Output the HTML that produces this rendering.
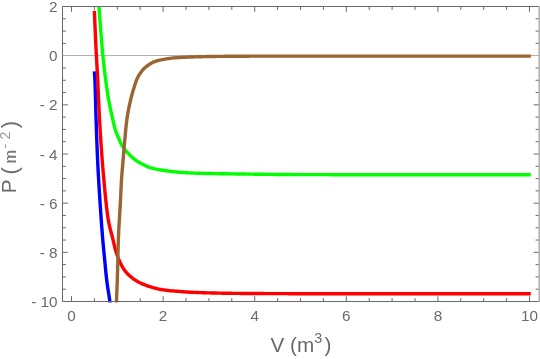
<!DOCTYPE html>
<html><head><meta charset="utf-8"><title>P-V plot</title>
<style>
html,body{margin:0;padding:0;background:#ffffff;}
body{width:540px;height:359px;position:relative;overflow:hidden;font-family:"Liberation Sans",sans-serif;}
</style></head>
<body>
<svg width="540" height="359" viewBox="0 0 540 359" style="position:absolute;left:0;top:0;will-change:transform">
<rect width="540" height="359" fill="#ffffff"/>
<defs><clipPath id="c"><rect x="62.5" y="6" width="477" height="296.5"/></clipPath></defs>
<line x1="62.5" y1="55.5" x2="539.0" y2="55.5" stroke="#b2b2b2" stroke-width="1"/>
<g clip-path="url(#c)" fill="none" stroke-width="3.4" stroke-linejoin="round" stroke-linecap="butt">
<path d="M94.40,71.30 L94.48,72.54 L94.56,73.79 L94.63,75.03 L94.71,76.27 L94.78,77.51 L94.84,78.76 L94.90,80.00 L94.95,81.21 L95.00,82.42 L95.04,83.63 L95.09,84.85 L95.13,86.06 L95.17,87.27 L95.21,88.48 L95.25,89.69 L95.29,90.91 L95.33,92.12 L95.36,93.33 L95.40,94.54 L95.43,95.75 L95.46,96.97 L95.50,98.18 L95.53,99.39 L95.56,100.60 L95.59,101.82 L95.62,103.03 L95.65,104.24 L95.69,105.45 L95.72,106.67 L95.75,107.88 L95.78,109.09 L95.81,110.30 L95.85,111.51 L95.88,112.73 L95.91,113.94 L95.95,115.15 L95.98,116.36 L96.02,117.58 L96.06,118.79 L96.10,120.00 L96.14,121.21 L96.18,122.42 L96.22,123.64 L96.26,124.85 L96.30,126.06 L96.34,127.27 L96.39,128.49 L96.43,129.70 L96.47,130.91 L96.51,132.12 L96.55,133.34 L96.59,134.55 L96.64,135.76 L96.68,136.97 L96.72,138.18 L96.77,139.40 L96.81,140.61 L96.86,141.82 L96.90,143.03 L96.95,144.25 L96.99,145.46 L97.04,146.67 L97.09,147.88 L97.14,149.09 L97.19,150.31 L97.23,151.52 L97.28,152.73 L97.34,153.94 L97.39,155.15 L97.44,156.37 L97.49,157.58 L97.55,158.79 L97.60,160.00 L97.66,161.21 L97.71,162.43 L97.77,163.64 L97.83,164.85 L97.89,166.06 L97.95,167.28 L98.01,168.49 L98.08,169.70 L98.14,170.91 L98.21,172.13 L98.28,173.34 L98.34,174.55 L98.41,175.76 L98.48,176.97 L98.55,178.19 L98.62,179.40 L98.69,180.61 L98.76,181.82 L98.84,183.03 L98.91,184.25 L98.98,185.46 L99.06,186.67 L99.13,187.88 L99.21,189.09 L99.28,190.31 L99.36,191.52 L99.44,192.73 L99.51,193.94 L99.59,195.15 L99.67,196.37 L99.74,197.58 L99.82,198.79 L99.90,200.00 L99.98,201.21 L100.06,202.43 L100.14,203.64 L100.21,204.85 L100.29,206.06 L100.37,207.28 L100.46,208.49 L100.54,209.70 L100.62,210.91 L100.70,212.13 L100.78,213.34 L100.87,214.55 L100.95,215.76 L101.04,216.98 L101.12,218.19 L101.21,219.40 L101.30,220.61 L101.39,221.83 L101.47,223.04 L101.56,224.25 L101.65,225.46 L101.74,226.67 L101.84,227.89 L101.93,229.10 L102.02,230.31 L102.12,231.52 L102.21,232.73 L102.31,233.94 L102.40,235.16 L102.50,236.37 L102.60,237.58 L102.70,238.79 L102.80,240.00 L102.91,241.25 L103.01,242.50 L103.13,243.75 L103.24,245.00 L103.36,246.25 L103.47,247.50 L103.59,248.75 L103.72,250.00 L103.84,251.25 L103.96,252.50 L104.08,253.75 L104.21,255.00 L104.33,256.25 L104.45,257.50 L104.58,258.75 L104.70,260.00 L104.82,261.25 L104.94,262.50 L105.06,263.75 L105.18,265.00 L105.29,266.25 L105.41,267.51 L105.53,268.76 L105.65,270.01 L105.77,271.26 L105.89,272.51 L106.02,273.76 L106.14,275.01 L106.28,276.26 L106.41,277.51 L106.55,278.75 L106.70,280.00 L106.85,281.24 L107.01,282.48 L107.18,283.71 L107.36,284.95 L107.54,286.18 L107.72,287.42 L107.91,288.65 L108.10,289.89 L108.30,291.12 L108.49,292.36 L108.69,293.59 L108.88,294.82 L109.07,296.06 L109.26,297.29 L109.45,298.53 L109.63,299.76 L109.80,301.00 L110.00,302.50 L110.20,304.00" stroke="#0000ff"/>
<path d="M94.40,10.90 L94.44,12.11 L94.49,13.33 L94.53,14.54 L94.58,15.75 L94.63,16.96 L94.67,18.18 L94.72,19.39 L94.77,20.60 L94.82,21.81 L94.87,23.03 L94.92,24.24 L94.97,25.45 L95.02,26.66 L95.07,27.88 L95.12,29.09 L95.17,30.30 L95.22,31.51 L95.27,32.73 L95.33,33.94 L95.38,35.15 L95.44,36.36 L95.49,37.58 L95.54,38.79 L95.60,40.00 L95.66,41.21 L95.71,42.42 L95.77,43.64 L95.83,44.85 L95.89,46.06 L95.95,47.27 L96.01,48.49 L96.08,49.70 L96.14,50.91 L96.20,52.12 L96.27,53.33 L96.33,54.55 L96.40,55.76 L96.46,56.97 L96.53,58.18 L96.60,59.39 L96.66,60.61 L96.73,61.82 L96.80,63.03 L96.86,64.24 L96.93,65.45 L97.00,66.67 L97.06,67.88 L97.13,69.09 L97.19,70.30 L97.26,71.51 L97.32,72.73 L97.39,73.94 L97.45,75.15 L97.51,76.36 L97.58,77.58 L97.64,78.79 L97.70,80.00 L97.76,81.21 L97.82,82.42 L97.88,83.64 L97.94,84.85 L97.99,86.06 L98.05,87.27 L98.11,88.48 L98.16,89.70 L98.22,90.91 L98.27,92.12 L98.33,93.33 L98.38,94.55 L98.43,95.76 L98.49,96.97 L98.54,98.18 L98.60,99.40 L98.65,100.61 L98.71,101.82 L98.76,103.03 L98.82,104.24 L98.87,105.46 L98.93,106.67 L98.99,107.88 L99.04,109.09 L99.10,110.31 L99.16,111.52 L99.22,112.73 L99.28,113.94 L99.34,115.15 L99.41,116.37 L99.47,117.58 L99.53,118.79 L99.60,120.00 L99.67,121.21 L99.73,122.43 L99.80,123.64 L99.87,124.85 L99.94,126.06 L100.01,127.28 L100.08,128.49 L100.16,129.70 L100.23,130.91 L100.30,132.13 L100.38,133.34 L100.45,134.55 L100.53,135.76 L100.61,136.98 L100.68,138.19 L100.76,139.40 L100.84,140.61 L100.92,141.82 L101.00,143.04 L101.08,144.25 L101.16,145.46 L101.25,146.67 L101.33,147.88 L101.41,149.10 L101.50,150.31 L101.58,151.52 L101.67,152.73 L101.76,153.94 L101.84,155.15 L101.93,156.37 L102.02,157.58 L102.11,158.79 L102.20,160.00 L102.29,161.25 L102.39,162.50 L102.49,163.75 L102.59,165.00 L102.69,166.25 L102.80,167.50 L102.91,168.75 L103.01,170.00 L103.12,171.25 L103.23,172.50 L103.34,173.75 L103.45,175.00 L103.56,176.25 L103.68,177.50 L103.79,178.75 L103.90,180.00 L104.01,181.25 L104.12,182.50 L104.24,183.75 L104.35,185.00 L104.46,186.25 L104.57,187.50 L104.69,188.75 L104.80,190.01 L104.92,191.26 L105.04,192.51 L105.16,193.76 L105.28,195.01 L105.41,196.25 L105.54,197.50 L105.67,198.75 L105.80,200.00 L105.93,201.25 L106.07,202.51 L106.21,203.76 L106.34,205.01 L106.48,206.27 L106.62,207.52 L106.77,208.78 L106.91,210.03 L107.06,211.28 L107.22,212.53 L107.38,213.78 L107.55,215.03 L107.73,216.28 L107.91,217.52 L108.10,218.76 L108.30,220.00 L108.51,221.19 L108.73,222.37 L108.97,223.55 L109.23,224.73 L109.50,225.91 L109.78,227.09 L110.07,228.26 L110.36,229.44 L110.67,230.61 L110.98,231.78 L111.29,232.96 L111.60,234.13 L111.91,235.30 L112.22,236.48 L112.52,237.65 L112.81,238.82 L113.10,240.00 L113.39,241.25 L113.68,242.51 L113.96,243.76 L114.25,245.02 L114.54,246.27 L114.84,247.52 L115.16,248.76 L115.50,250.00 L115.87,251.27 L116.26,252.54 L116.67,253.80 L117.10,255.06 L117.54,256.31 L118.01,257.56 L118.49,258.79 L119.00,260.00 L119.50,261.15 L120.03,262.31 L120.58,263.45 L121.16,264.59 L121.76,265.72 L122.38,266.83 L123.03,267.92 L123.70,268.97 L124.40,270.00 L125.21,271.09 L126.09,272.17 L127.02,273.21 L127.98,274.22 L128.98,275.19 L130.00,276.10 L130.91,276.86 L131.84,277.61 L132.80,278.35 L133.79,279.06 L134.79,279.75 L135.81,280.42 L136.85,281.06 L137.89,281.67 L138.94,282.25 L140.00,282.80 L141.19,283.37 L142.41,283.92 L143.65,284.44 L144.91,284.94 L146.17,285.41 L147.45,285.86 L148.72,286.29 L150.00,286.70 L151.23,287.08 L152.47,287.45 L153.71,287.81 L154.96,288.15 L156.22,288.48 L157.47,288.78 L158.74,289.05 L160.00,289.30 L161.24,289.52 L162.48,289.72 L163.73,289.92 L164.98,290.10 L166.24,290.27 L167.49,290.42 L168.75,290.57 L170.00,290.70 L171.25,290.82 L172.50,290.93 L173.74,291.04 L175.00,291.13 L176.25,291.23 L177.50,291.32 L178.75,291.41 L180.00,291.50 L181.25,291.59 L182.50,291.69 L183.75,291.79 L185.00,291.88 L186.25,291.97 L187.50,292.06 L188.75,292.13 L190.00,292.20 L191.25,292.26 L192.50,292.32 L193.75,292.37 L195.00,292.42 L196.25,292.47 L197.50,292.52 L198.75,292.56 L200.00,292.61 L201.25,292.65 L202.50,292.69 L203.75,292.73 L205.00,292.76 L206.25,292.80 L207.50,292.83 L208.75,292.87 L210.00,292.90 L211.25,292.93 L212.50,292.96 L213.75,292.99 L215.00,293.02 L216.25,293.05 L217.50,293.08 L218.75,293.10 L220.00,293.13 L221.25,293.16 L222.50,293.18 L223.75,293.20 L225.00,293.22 L226.25,293.24 L227.50,293.26 L228.75,293.28 L230.00,293.30 L231.25,293.32 L232.50,293.33 L233.75,293.35 L235.00,293.36 L236.25,293.38 L237.50,293.39 L238.75,293.41 L240.00,293.42 L241.25,293.43 L242.50,293.44 L243.75,293.45 L245.00,293.46 L246.25,293.47 L247.50,293.48 L248.75,293.49 L250.00,293.50 L251.22,293.51 L252.44,293.51 L253.66,293.52 L254.88,293.53 L256.10,293.54 L257.32,293.54 L258.54,293.55 L259.76,293.56 L260.98,293.56 L262.19,293.57 L263.41,293.57 L264.63,293.58 L265.85,293.59 L267.07,293.59 L268.29,293.60 L269.51,293.60 L270.73,293.61 L271.95,293.61 L273.17,293.62 L274.39,293.62 L275.61,293.63 L276.83,293.63 L278.05,293.64 L279.27,293.64 L280.49,293.65 L281.71,293.65 L282.93,293.66 L284.15,293.66 L285.37,293.66 L286.59,293.67 L287.80,293.67 L289.02,293.68 L290.24,293.68 L291.46,293.68 L292.68,293.68 L293.90,293.69 L295.12,293.69 L296.34,293.69 L297.56,293.70 L298.78,293.70 L300.00,293.70 L301.20,293.70 L302.41,293.70 L303.61,293.71 L304.82,293.71 L306.02,293.71 L307.23,293.71 L308.43,293.71 L309.64,293.72 L310.84,293.72 L312.05,293.72 L313.25,293.72 L314.46,293.72 L315.66,293.73 L316.87,293.73 L318.07,293.73 L319.28,293.73 L320.48,293.73 L321.69,293.73 L322.89,293.74 L324.10,293.74 L325.30,293.74 L326.51,293.74 L327.71,293.74 L328.92,293.75 L330.12,293.75 L331.33,293.75 L332.53,293.75 L333.73,293.75 L334.94,293.75 L336.14,293.76 L337.35,293.76 L338.55,293.76 L339.76,293.76 L340.96,293.76 L342.17,293.76 L343.37,293.76 L344.58,293.77 L345.78,293.77 L346.99,293.77 L348.19,293.77 L349.40,293.77 L350.60,293.77 L351.81,293.77 L353.01,293.77 L354.22,293.78 L355.42,293.78 L356.63,293.78 L357.83,293.78 L359.04,293.78 L360.24,293.78 L361.45,293.78 L362.65,293.78 L363.86,293.78 L365.06,293.79 L366.27,293.79 L367.47,293.79 L368.67,293.79 L369.88,293.79 L371.08,293.79 L372.29,293.79 L373.49,293.79 L374.70,293.79 L375.90,293.79 L377.11,293.79 L378.31,293.79 L379.52,293.79 L380.72,293.80 L381.93,293.80 L383.13,293.80 L384.34,293.80 L385.54,293.80 L386.75,293.80 L387.95,293.80 L389.16,293.80 L390.36,293.80 L391.57,293.80 L392.77,293.80 L393.98,293.80 L395.18,293.80 L396.39,293.80 L397.59,293.80 L398.80,293.80 L400.00,293.80 L401.21,293.80 L402.42,293.80 L403.63,293.80 L404.84,293.80 L406.06,293.80 L407.27,293.80 L408.48,293.80 L409.69,293.80 L410.90,293.80 L412.11,293.80 L413.32,293.80 L414.53,293.80 L415.74,293.80 L416.96,293.80 L418.17,293.80 L419.38,293.80 L420.59,293.80 L421.80,293.80 L423.01,293.80 L424.22,293.80 L425.43,293.80 L426.64,293.80 L427.86,293.80 L429.07,293.80 L430.28,293.80 L431.49,293.80 L432.70,293.80 L433.91,293.80 L435.12,293.80 L436.33,293.80 L437.54,293.80 L438.76,293.80 L439.97,293.80 L441.18,293.80 L442.39,293.80 L443.60,293.80 L444.81,293.80 L446.02,293.80 L447.23,293.80 L448.44,293.80 L449.66,293.80 L450.87,293.80 L452.08,293.80 L453.29,293.80 L454.50,293.80 L455.71,293.80 L456.92,293.80 L458.13,293.80 L459.34,293.80 L460.56,293.80 L461.77,293.80 L462.98,293.80 L464.19,293.80 L465.40,293.80 L466.61,293.80 L467.82,293.80 L469.03,293.80 L470.24,293.80 L471.46,293.80 L472.67,293.80 L473.88,293.80 L475.09,293.80 L476.30,293.80 L477.51,293.80 L478.72,293.80 L479.93,293.80 L481.14,293.80 L482.36,293.80 L483.57,293.80 L484.78,293.80 L485.99,293.80 L487.20,293.80 L488.41,293.80 L489.62,293.80 L490.83,293.80 L492.04,293.80 L493.26,293.80 L494.47,293.80 L495.68,293.80 L496.89,293.80 L498.10,293.80 L499.31,293.80 L500.52,293.80 L501.73,293.80 L502.94,293.80 L504.16,293.80 L505.37,293.80 L506.58,293.80 L507.79,293.80 L509.00,293.80 L510.21,293.80 L511.42,293.80 L512.63,293.80 L513.84,293.80 L515.06,293.80 L516.27,293.80 L517.48,293.80 L518.69,293.80 L519.90,293.80 L521.11,293.80 L522.32,293.80 L523.53,293.80 L524.74,293.80 L525.96,293.80 L527.17,293.80 L528.38,293.80 L529.59,293.80 L530.80,293.80" stroke="#ff0000"/>
<path d="M98.60,3.00 L98.75,4.75 L98.90,6.50 L99.00,7.70 L99.10,8.89 L99.19,10.09 L99.29,11.28 L99.38,12.48 L99.47,13.68 L99.57,14.87 L99.66,16.07 L99.75,17.27 L99.84,18.46 L99.93,19.66 L100.02,20.86 L100.11,22.05 L100.20,23.25 L100.29,24.45 L100.38,25.64 L100.47,26.84 L100.56,28.04 L100.65,29.23 L100.75,30.43 L100.84,31.63 L100.93,32.82 L101.02,34.02 L101.12,35.22 L101.21,36.41 L101.31,37.61 L101.40,38.80 L101.50,40.00 L101.60,41.27 L101.71,42.53 L101.81,43.80 L101.91,45.07 L102.02,46.34 L102.12,47.60 L102.23,48.87 L102.34,50.14 L102.45,51.40 L102.56,52.67 L102.68,53.93 L102.80,55.20 L102.92,56.44 L103.05,57.68 L103.18,58.93 L103.31,60.17 L103.44,61.41 L103.58,62.65 L103.72,63.89 L103.86,65.13 L104.00,66.37 L104.14,67.61 L104.29,68.85 L104.44,70.09 L104.59,71.33 L104.75,72.57 L104.90,73.81 L105.06,75.05 L105.22,76.29 L105.38,77.52 L105.54,78.76 L105.70,80.00 L105.87,81.25 L106.03,82.51 L106.20,83.76 L106.38,85.01 L106.55,86.26 L106.73,87.52 L106.91,88.77 L107.10,90.02 L107.28,91.27 L107.47,92.52 L107.67,93.77 L107.87,95.02 L108.07,96.26 L108.27,97.51 L108.48,98.76 L108.70,100.00 L108.91,101.18 L109.13,102.36 L109.35,103.54 L109.58,104.72 L109.81,105.90 L110.05,107.08 L110.29,108.26 L110.54,109.44 L110.79,110.61 L111.05,111.79 L111.31,112.96 L111.57,114.14 L111.83,115.31 L112.09,116.48 L112.36,117.66 L112.63,118.83 L112.90,120.00 L113.19,121.26 L113.47,122.52 L113.76,123.78 L114.06,125.03 L114.37,126.29 L114.69,127.53 L115.03,128.77 L115.40,130.00 L115.78,131.14 L116.19,132.28 L116.63,133.41 L117.09,134.53 L117.57,135.65 L118.05,136.77 L118.53,137.88 L119.00,139.00 L119.54,140.35 L120.10,141.69 L120.70,143.00 L121.37,144.29 L122.11,145.56 L122.88,146.80 L123.70,148.00 L124.54,149.12 L125.43,150.20 L126.36,151.26 L127.30,152.30 L128.12,153.20 L128.94,154.09 L129.78,154.98 L130.63,155.84 L131.51,156.69 L132.40,157.50 L133.45,158.40 L134.52,159.28 L135.63,160.13 L136.75,160.94 L137.90,161.70 L138.98,162.35 L140.09,162.97 L141.22,163.57 L142.36,164.14 L143.50,164.70 L144.78,165.34 L146.06,165.97 L147.36,166.58 L148.67,167.14 L150.00,167.60 L151.22,167.95 L152.45,168.27 L153.69,168.57 L154.95,168.84 L156.21,169.10 L157.47,169.34 L158.74,169.57 L160.00,169.80 L161.24,170.02 L162.49,170.23 L163.74,170.43 L164.99,170.62 L166.24,170.80 L167.49,170.98 L168.75,171.14 L170.00,171.30 L171.25,171.45 L172.49,171.59 L173.74,171.73 L174.99,171.86 L176.24,171.99 L177.50,172.10 L178.75,172.21 L180.00,172.30 L181.25,172.39 L182.50,172.47 L183.74,172.55 L184.99,172.62 L186.24,172.70 L187.49,172.77 L188.74,172.84 L189.99,172.90 L191.24,172.97 L192.49,173.02 L193.75,173.08 L195.00,173.13 L196.25,173.18 L197.50,173.22 L198.75,173.26 L200.00,173.30 L201.21,173.33 L202.42,173.36 L203.63,173.39 L204.85,173.42 L206.06,173.45 L207.27,173.48 L208.48,173.51 L209.69,173.53 L210.91,173.56 L212.12,173.58 L213.33,173.61 L214.54,173.63 L215.75,173.65 L216.97,173.67 L218.18,173.69 L219.39,173.71 L220.60,173.73 L221.82,173.75 L223.03,173.77 L224.24,173.79 L225.45,173.81 L226.66,173.82 L227.88,173.84 L229.09,173.86 L230.30,173.87 L231.51,173.89 L232.73,173.91 L233.94,173.92 L235.15,173.94 L236.36,173.95 L237.58,173.97 L238.79,173.98 L240.00,174.00 L241.20,174.02 L242.40,174.03 L243.60,174.05 L244.80,174.06 L246.00,174.08 L247.20,174.09 L248.40,174.11 L249.60,174.13 L250.80,174.14 L252.00,174.16 L253.20,174.17 L254.40,174.19 L255.60,174.20 L256.80,174.22 L258.00,174.23 L259.20,174.25 L260.40,174.26 L261.60,174.28 L262.80,174.29 L264.00,174.31 L265.20,174.32 L266.40,174.34 L267.60,174.35 L268.80,174.36 L270.00,174.38 L271.20,174.39 L272.40,174.40 L273.60,174.42 L274.80,174.43 L276.00,174.44 L277.20,174.45 L278.40,174.46 L279.60,174.47 L280.80,174.48 L282.00,174.49 L283.20,174.50 L284.40,174.51 L285.60,174.52 L286.80,174.53 L288.00,174.54 L289.20,174.55 L290.40,174.56 L291.60,174.56 L292.80,174.57 L294.00,174.58 L295.20,174.58 L296.40,174.59 L297.60,174.59 L298.80,174.60 L300.00,174.60 L301.20,174.60 L302.41,174.61 L303.61,174.61 L304.82,174.61 L306.02,174.62 L307.23,174.62 L308.43,174.62 L309.64,174.63 L310.84,174.63 L312.05,174.63 L313.25,174.63 L314.46,174.64 L315.66,174.64 L316.87,174.64 L318.07,174.65 L319.28,174.65 L320.48,174.65 L321.69,174.66 L322.89,174.66 L324.10,174.66 L325.30,174.66 L326.51,174.67 L327.71,174.67 L328.92,174.67 L330.12,174.67 L331.32,174.68 L332.53,174.68 L333.73,174.68 L334.94,174.68 L336.14,174.69 L337.35,174.69 L338.55,174.69 L339.76,174.69 L340.96,174.69 L342.17,174.70 L343.37,174.70 L344.58,174.70 L345.78,174.70 L346.99,174.70 L348.19,174.71 L349.40,174.71 L350.60,174.71 L351.81,174.71 L353.01,174.71 L354.22,174.72 L355.42,174.72 L356.63,174.72 L357.83,174.72 L359.04,174.72 L360.24,174.72 L361.45,174.73 L362.65,174.73 L363.86,174.73 L365.06,174.73 L366.26,174.73 L367.47,174.73 L368.67,174.73 L369.88,174.73 L371.08,174.74 L372.29,174.74 L373.49,174.74 L374.70,174.74 L375.90,174.74 L377.11,174.74 L378.31,174.74 L379.52,174.74 L380.72,174.74 L381.93,174.74 L383.13,174.75 L384.34,174.75 L385.54,174.75 L386.75,174.75 L387.95,174.75 L389.16,174.75 L390.36,174.75 L391.57,174.75 L392.77,174.75 L393.98,174.75 L395.18,174.75 L396.39,174.75 L397.59,174.75 L398.80,174.75 L400.00,174.75 L401.20,174.75 L402.40,174.75 L403.60,174.75 L404.80,174.75 L406.00,174.75 L407.20,174.75 L408.40,174.75 L409.60,174.75 L410.80,174.75 L412.00,174.75 L413.20,174.75 L414.40,174.75 L415.60,174.75 L416.80,174.75 L418.00,174.75 L419.20,174.75 L420.40,174.75 L421.60,174.75 L422.80,174.75 L424.00,174.75 L425.20,174.75 L426.40,174.75 L427.60,174.75 L428.80,174.75 L430.00,174.75 L431.20,174.75 L432.40,174.75 L433.60,174.75 L434.80,174.75 L436.00,174.75 L437.20,174.75 L438.40,174.75 L439.60,174.75 L440.80,174.75 L442.00,174.75 L443.20,174.75 L444.40,174.75 L445.60,174.75 L446.80,174.75 L448.00,174.75 L449.20,174.75 L450.40,174.75 L451.60,174.75 L452.80,174.75 L454.00,174.75 L455.20,174.75 L456.40,174.75 L457.60,174.75 L458.80,174.75 L460.00,174.75 L461.20,174.74 L462.40,174.74 L463.60,174.74 L464.80,174.74 L466.00,174.74 L467.20,174.74 L468.40,174.74 L469.60,174.74 L470.80,174.74 L472.00,174.74 L473.20,174.74 L474.40,174.74 L475.60,174.74 L476.80,174.74 L478.00,174.74 L479.20,174.74 L480.40,174.74 L481.60,174.74 L482.80,174.74 L484.00,174.74 L485.20,174.74 L486.40,174.74 L487.60,174.73 L488.80,174.73 L490.00,174.73 L491.20,174.73 L492.40,174.73 L493.60,174.73 L494.80,174.73 L496.00,174.73 L497.20,174.73 L498.40,174.73 L499.60,174.73 L500.80,174.73 L502.00,174.73 L503.20,174.73 L504.40,174.72 L505.60,174.72 L506.80,174.72 L508.00,174.72 L509.20,174.72 L510.40,174.72 L511.60,174.72 L512.80,174.72 L514.00,174.72 L515.20,174.72 L516.40,174.71 L517.60,174.71 L518.80,174.71 L520.00,174.71 L521.20,174.71 L522.40,174.71 L523.60,174.71 L524.80,174.71 L526.00,174.71 L527.20,174.70 L528.40,174.70 L529.60,174.70 L530.80,174.70" stroke="#00ff00"/>
<path d="M116.40,304.00 L116.45,302.75 L116.50,301.50 L116.55,300.24 L116.60,298.97 L116.65,297.71 L116.70,296.44 L116.75,295.18 L116.80,293.91 L116.84,292.65 L116.89,291.38 L116.94,290.12 L116.99,288.85 L117.03,287.59 L117.08,286.32 L117.13,285.06 L117.17,283.79 L117.22,282.53 L117.26,281.26 L117.30,280.00 L117.34,278.75 L117.38,277.50 L117.42,276.25 L117.46,275.00 L117.49,273.75 L117.53,272.50 L117.57,271.25 L117.60,270.00 L117.63,268.80 L117.66,267.60 L117.69,266.40 L117.72,265.20 L117.75,264.00 L117.78,262.80 L117.81,261.60 L117.83,260.40 L117.86,259.20 L117.89,258.00 L117.91,256.80 L117.94,255.60 L117.97,254.40 L117.99,253.20 L118.02,252.00 L118.05,250.80 L118.08,249.60 L118.11,248.40 L118.14,247.20 L118.17,246.00 L118.20,244.80 L118.24,243.60 L118.27,242.40 L118.31,241.20 L118.35,240.00 L118.39,238.79 L118.44,237.57 L118.49,236.36 L118.54,235.15 L118.59,233.94 L118.64,232.72 L118.70,231.51 L118.76,230.30 L118.82,229.09 L118.89,227.88 L118.95,226.66 L119.02,225.45 L119.09,224.24 L119.16,223.03 L119.23,221.82 L119.30,220.60 L119.37,219.39 L119.44,218.18 L119.52,216.97 L119.59,215.76 L119.66,214.54 L119.74,213.33 L119.81,212.12 L119.88,210.91 L119.95,209.70 L120.03,208.48 L120.10,207.27 L120.17,206.06 L120.24,204.85 L120.30,203.64 L120.37,202.42 L120.44,201.21 L120.50,200.00 L120.56,198.75 L120.62,197.50 L120.68,196.25 L120.74,195.00 L120.80,193.75 L120.86,192.50 L120.92,191.25 L120.98,190.00 L121.03,188.75 L121.09,187.50 L121.16,186.25 L121.22,185.00 L121.28,183.75 L121.35,182.50 L121.42,181.25 L121.50,180.00 L121.58,178.75 L121.66,177.50 L121.75,176.25 L121.85,175.00 L121.94,173.75 L122.04,172.50 L122.14,171.25 L122.25,170.00 L122.35,168.75 L122.46,167.50 L122.57,166.25 L122.68,165.00 L122.78,163.75 L122.89,162.50 L123.00,161.25 L123.10,160.00 L123.20,158.75 L123.31,157.50 L123.41,156.25 L123.51,155.00 L123.61,153.75 L123.72,152.50 L123.82,151.25 L123.93,150.00 L124.03,148.75 L124.14,147.50 L124.25,146.25 L124.35,145.00 L124.46,143.75 L124.57,142.50 L124.69,141.25 L124.80,140.00 L124.91,138.75 L125.03,137.50 L125.14,136.24 L125.25,134.99 L125.36,133.74 L125.47,132.49 L125.59,131.23 L125.70,129.98 L125.82,128.73 L125.95,127.48 L126.07,126.23 L126.21,124.98 L126.35,123.73 L126.49,122.49 L126.64,121.24 L126.80,120.00 L126.97,118.74 L127.15,117.49 L127.35,116.23 L127.55,114.97 L127.77,113.72 L127.99,112.46 L128.22,111.21 L128.46,109.96 L128.71,108.71 L128.97,107.46 L129.23,106.21 L129.49,104.97 L129.76,103.72 L130.04,102.48 L130.32,101.24 L130.60,100.00 L130.88,98.79 L131.18,97.58 L131.49,96.38 L131.81,95.17 L132.13,93.97 L132.47,92.77 L132.82,91.57 L133.17,90.38 L133.53,89.19 L133.90,88.00 L134.29,86.73 L134.69,85.46 L135.10,84.19 L135.52,82.92 L135.96,81.66 L136.42,80.42 L136.92,79.20 L137.45,78.00 L138.08,76.75 L138.78,75.52 L139.53,74.32 L140.33,73.14 L141.15,72.00 L141.94,70.95 L142.78,69.91 L143.67,68.92 L144.60,68.00 L145.86,66.96 L147.20,66.00 L148.27,65.22 L149.34,64.44 L150.43,63.68 L151.55,62.99 L152.70,62.40 L154.05,61.84 L155.45,61.34 L156.87,60.89 L158.30,60.50 L159.71,60.16 L161.14,59.85 L162.57,59.57 L164.00,59.30 L165.25,59.08 L166.50,58.87 L167.75,58.68 L169.00,58.50 L170.25,58.33 L171.50,58.17 L172.75,58.02 L174.00,57.90 L175.25,57.80 L176.50,57.70 L177.75,57.61 L179.00,57.52 L180.25,57.45 L181.50,57.37 L182.75,57.31 L184.00,57.25 L185.25,57.20 L186.50,57.15 L187.75,57.10 L189.00,57.06 L190.25,57.01 L191.50,56.97 L192.75,56.94 L194.00,56.90 L195.23,56.86 L196.46,56.83 L197.69,56.79 L198.92,56.76 L200.15,56.72 L201.38,56.69 L202.61,56.65 L203.85,56.62 L205.08,56.59 L206.31,56.57 L207.54,56.54 L208.77,56.52 L210.00,56.50 L211.20,56.48 L212.40,56.46 L213.60,56.45 L214.80,56.43 L216.00,56.41 L217.20,56.40 L218.40,56.38 L219.60,56.37 L220.80,56.35 L222.00,56.34 L223.20,56.33 L224.40,56.31 L225.60,56.30 L226.80,56.29 L228.00,56.28 L229.20,56.27 L230.40,56.26 L231.60,56.25 L232.80,56.24 L234.00,56.23 L235.20,56.22 L236.40,56.21 L237.60,56.21 L238.80,56.20 L240.00,56.20 L241.20,56.20 L242.40,56.19 L243.60,56.19 L244.80,56.19 L246.00,56.18 L247.20,56.18 L248.40,56.18 L249.60,56.17 L250.80,56.17 L252.00,56.17 L253.20,56.16 L254.40,56.16 L255.60,56.16 L256.80,56.15 L258.00,56.15 L259.20,56.15 L260.40,56.15 L261.60,56.14 L262.80,56.14 L264.00,56.14 L265.20,56.14 L266.40,56.13 L267.60,56.13 L268.80,56.13 L270.00,56.13 L271.20,56.12 L272.40,56.12 L273.60,56.12 L274.80,56.12 L276.00,56.12 L277.20,56.12 L278.40,56.11 L279.60,56.11 L280.80,56.11 L282.00,56.11 L283.20,56.11 L284.40,56.11 L285.60,56.11 L286.80,56.11 L288.00,56.10 L289.20,56.10 L290.40,56.10 L291.60,56.10 L292.80,56.10 L294.00,56.10 L295.20,56.10 L296.40,56.10 L297.60,56.10 L298.80,56.10 L300.00,56.10 L301.20,56.10 L302.41,56.10 L303.61,56.10 L304.81,56.10 L306.01,56.10 L307.22,56.10 L308.42,56.10 L309.62,56.10 L310.82,56.10 L312.03,56.10 L313.23,56.10 L314.43,56.10 L315.63,56.10 L316.84,56.10 L318.04,56.10 L319.24,56.10 L320.44,56.10 L321.65,56.10 L322.85,56.10 L324.05,56.10 L325.25,56.10 L326.46,56.10 L327.66,56.10 L328.86,56.10 L330.07,56.10 L331.27,56.10 L332.47,56.10 L333.67,56.10 L334.88,56.10 L336.08,56.10 L337.28,56.10 L338.48,56.10 L339.69,56.10 L340.89,56.10 L342.09,56.10 L343.29,56.10 L344.50,56.10 L345.70,56.10 L346.90,56.10 L348.10,56.10 L349.31,56.10 L350.51,56.10 L351.71,56.10 L352.91,56.10 L354.12,56.10 L355.32,56.10 L356.52,56.10 L357.72,56.10 L358.93,56.10 L360.13,56.10 L361.33,56.10 L362.54,56.10 L363.74,56.10 L364.94,56.10 L366.14,56.10 L367.35,56.10 L368.55,56.10 L369.75,56.10 L370.95,56.10 L372.16,56.10 L373.36,56.10 L374.56,56.10 L375.76,56.10 L376.97,56.10 L378.17,56.10 L379.37,56.10 L380.57,56.10 L381.78,56.10 L382.98,56.10 L384.18,56.10 L385.38,56.10 L386.59,56.10 L387.79,56.10 L388.99,56.10 L390.20,56.10 L391.40,56.10 L392.60,56.10 L393.80,56.10 L395.01,56.10 L396.21,56.10 L397.41,56.10 L398.61,56.10 L399.82,56.10 L401.02,56.10 L402.22,56.10 L403.42,56.10 L404.63,56.10 L405.83,56.10 L407.03,56.10 L408.23,56.10 L409.44,56.10 L410.64,56.10 L411.84,56.10 L413.04,56.10 L414.25,56.10 L415.45,56.10 L416.65,56.10 L417.86,56.10 L419.06,56.10 L420.26,56.10 L421.46,56.10 L422.67,56.10 L423.87,56.10 L425.07,56.10 L426.27,56.10 L427.48,56.10 L428.68,56.10 L429.88,56.10 L431.08,56.10 L432.29,56.10 L433.49,56.10 L434.69,56.10 L435.89,56.10 L437.10,56.10 L438.30,56.10 L439.50,56.10 L440.70,56.10 L441.91,56.10 L443.11,56.10 L444.31,56.10 L445.52,56.10 L446.72,56.10 L447.92,56.10 L449.12,56.10 L450.33,56.10 L451.53,56.10 L452.73,56.10 L453.93,56.10 L455.14,56.10 L456.34,56.10 L457.54,56.10 L458.74,56.10 L459.95,56.10 L461.15,56.10 L462.35,56.10 L463.55,56.10 L464.76,56.10 L465.96,56.10 L467.16,56.10 L468.36,56.10 L469.57,56.10 L470.77,56.10 L471.97,56.10 L473.17,56.10 L474.38,56.10 L475.58,56.10 L476.78,56.10 L477.99,56.10 L479.19,56.10 L480.39,56.10 L481.59,56.10 L482.80,56.10 L484.00,56.10 L485.20,56.10 L486.40,56.10 L487.61,56.10 L488.81,56.10 L490.01,56.10 L491.21,56.10 L492.42,56.10 L493.62,56.10 L494.82,56.10 L496.02,56.10 L497.23,56.10 L498.43,56.10 L499.63,56.10 L500.83,56.10 L502.04,56.10 L503.24,56.10 L504.44,56.10 L505.65,56.10 L506.85,56.10 L508.05,56.10 L509.25,56.10 L510.46,56.10 L511.66,56.10 L512.86,56.10 L514.06,56.10 L515.27,56.10 L516.47,56.10 L517.67,56.10 L518.87,56.10 L520.08,56.10 L521.28,56.10 L522.48,56.10 L523.68,56.10 L524.89,56.10 L526.09,56.10 L527.29,56.10 L528.49,56.10 L529.70,56.10 L530.90,56.10" stroke="#996633"/>
</g>
<g stroke="#6a6a6a" stroke-width="1" fill="none">
<path d="M62.5,301.5 L62.5,6.5 L539.0,6.5"/>
<path d="M62.5,301.5 L539.0,301.5"/>
<path d="M71.50,301.5 v-5.3 M71.50,6.5 v5.3"/>
<path d="M94.40,301.5 v-3.4 M94.40,6.5 v3.4"/>
<path d="M117.30,301.5 v-3.4 M117.30,6.5 v3.4"/>
<path d="M140.20,301.5 v-3.4 M140.20,6.5 v3.4"/>
<path d="M163.10,301.5 v-5.3 M163.10,6.5 v5.3"/>
<path d="M186.00,301.5 v-3.4 M186.00,6.5 v3.4"/>
<path d="M208.90,301.5 v-3.4 M208.90,6.5 v3.4"/>
<path d="M231.80,301.5 v-3.4 M231.80,6.5 v3.4"/>
<path d="M254.70,301.5 v-5.3 M254.70,6.5 v5.3"/>
<path d="M277.60,301.5 v-3.4 M277.60,6.5 v3.4"/>
<path d="M300.50,301.5 v-3.4 M300.50,6.5 v3.4"/>
<path d="M323.40,301.5 v-3.4 M323.40,6.5 v3.4"/>
<path d="M346.30,301.5 v-5.3 M346.30,6.5 v5.3"/>
<path d="M369.20,301.5 v-3.4 M369.20,6.5 v3.4"/>
<path d="M392.10,301.5 v-3.4 M392.10,6.5 v3.4"/>
<path d="M415.00,301.5 v-3.4 M415.00,6.5 v3.4"/>
<path d="M437.90,301.5 v-5.3 M437.90,6.5 v5.3"/>
<path d="M460.80,301.5 v-3.4 M460.80,6.5 v3.4"/>
<path d="M483.70,301.5 v-3.4 M483.70,6.5 v3.4"/>
<path d="M506.60,301.5 v-3.4 M506.60,6.5 v3.4"/>
<path d="M529.50,301.5 v-5.3 M529.50,6.5 v5.3"/>
<path d="M62.5,6.50 h5.3 M539.0,6.50 h-5.3"/>
<path d="M62.5,18.79 h3.4 M539.0,18.79 h-3.4"/>
<path d="M62.5,31.08 h3.4 M539.0,31.08 h-3.4"/>
<path d="M62.5,43.37 h3.4 M539.0,43.37 h-3.4"/>
<path d="M62.5,67.96 h3.4 M539.0,67.96 h-3.4"/>
<path d="M62.5,80.25 h3.4 M539.0,80.25 h-3.4"/>
<path d="M62.5,92.54 h3.4 M539.0,92.54 h-3.4"/>
<path d="M62.5,104.83 h5.3 M539.0,104.83 h-5.3"/>
<path d="M62.5,117.12 h3.4 M539.0,117.12 h-3.4"/>
<path d="M62.5,129.41 h3.4 M539.0,129.41 h-3.4"/>
<path d="M62.5,141.71 h3.4 M539.0,141.71 h-3.4"/>
<path d="M62.5,154.00 h5.3 M539.0,154.00 h-5.3"/>
<path d="M62.5,166.29 h3.4 M539.0,166.29 h-3.4"/>
<path d="M62.5,178.58 h3.4 M539.0,178.58 h-3.4"/>
<path d="M62.5,190.87 h3.4 M539.0,190.87 h-3.4"/>
<path d="M62.5,203.16 h5.3 M539.0,203.16 h-5.3"/>
<path d="M62.5,215.46 h3.4 M539.0,215.46 h-3.4"/>
<path d="M62.5,227.75 h3.4 M539.0,227.75 h-3.4"/>
<path d="M62.5,240.04 h3.4 M539.0,240.04 h-3.4"/>
<path d="M62.5,252.33 h5.3 M539.0,252.33 h-5.3"/>
<path d="M62.5,264.62 h3.4 M539.0,264.62 h-3.4"/>
<path d="M62.5,276.91 h3.4 M539.0,276.91 h-3.4"/>
<path d="M62.5,289.20 h3.4 M539.0,289.20 h-3.4"/>
<path d="M62.5,301.50 h5.3 M539.0,301.50 h-5.3"/>
</g>
<rect x="538.4" y="6" width="1.6" height="296" fill="#b4b4b4"/>
<g font-family="Liberation Sans, sans-serif" font-size="15.3px" fill="#6a6a6a">
<text x="71.50" y="321" text-anchor="middle">0</text>
<text x="163.10" y="321" text-anchor="middle">2</text>
<text x="254.70" y="321" text-anchor="middle">4</text>
<text x="346.30" y="321" text-anchor="middle">6</text>
<text x="437.90" y="321" text-anchor="middle">8</text>
<text x="529.50" y="321" text-anchor="middle">10</text>
<text x="57.6" y="12.00" text-anchor="end" word-spacing="0" xml:space="preserve">2</text>
<text x="57.6" y="61.17" text-anchor="end" word-spacing="0" xml:space="preserve">0</text>
<text x="57.6" y="110.33" text-anchor="end" word-spacing="0" xml:space="preserve">- 2</text>
<text x="57.6" y="159.50" text-anchor="end" word-spacing="0" xml:space="preserve">- 4</text>
<text x="57.6" y="208.66" text-anchor="end" word-spacing="0" xml:space="preserve">- 6</text>
<text x="57.6" y="257.83" text-anchor="end" word-spacing="0" xml:space="preserve">- 8</text>
<text x="57.6" y="307.00" text-anchor="end" word-spacing="0" xml:space="preserve">- 10</text>
</g>
<g font-family="Liberation Sans, sans-serif" fill="#6a6a6a">
<text x="270.5" y="352.3" font-size="20.7px">V (m</text>
<text x="314.2" y="343.4" font-size="14.3px">3</text>
<text x="324.6" y="352.3" font-size="20.7px">)</text>
</g>
<g transform="translate(15.8,193.2) rotate(-90)" fill="#6a6a6a">
<text x="0" y="0" font-family="Liberation Sans, sans-serif" font-size="20.7px">P</text>
<text x="18.6" y="0.8" font-family="Liberation Sans, sans-serif" font-size="22px" fill="#707070">(</text>
<text x="29.6" y="0" font-family="Liberation Mono, monospace" font-size="20px" fill="#7a7a7a" transform="translate(30,0) scale(1.18,0.84) translate(-30,0)">m</text>
<text x="43.5" y="-7.2" font-family="Liberation Mono, monospace" font-size="12px" fill="#8a8a8a">-</text>
<text x="53.4" y="-6" font-family="Liberation Mono, monospace" font-size="14px" fill="#9a9a9a">2</text>
<text x="65" y="0.8" font-family="Liberation Sans, sans-serif" font-size="22px" fill="#707070">)</text>
</g>
</svg>
</body></html>
